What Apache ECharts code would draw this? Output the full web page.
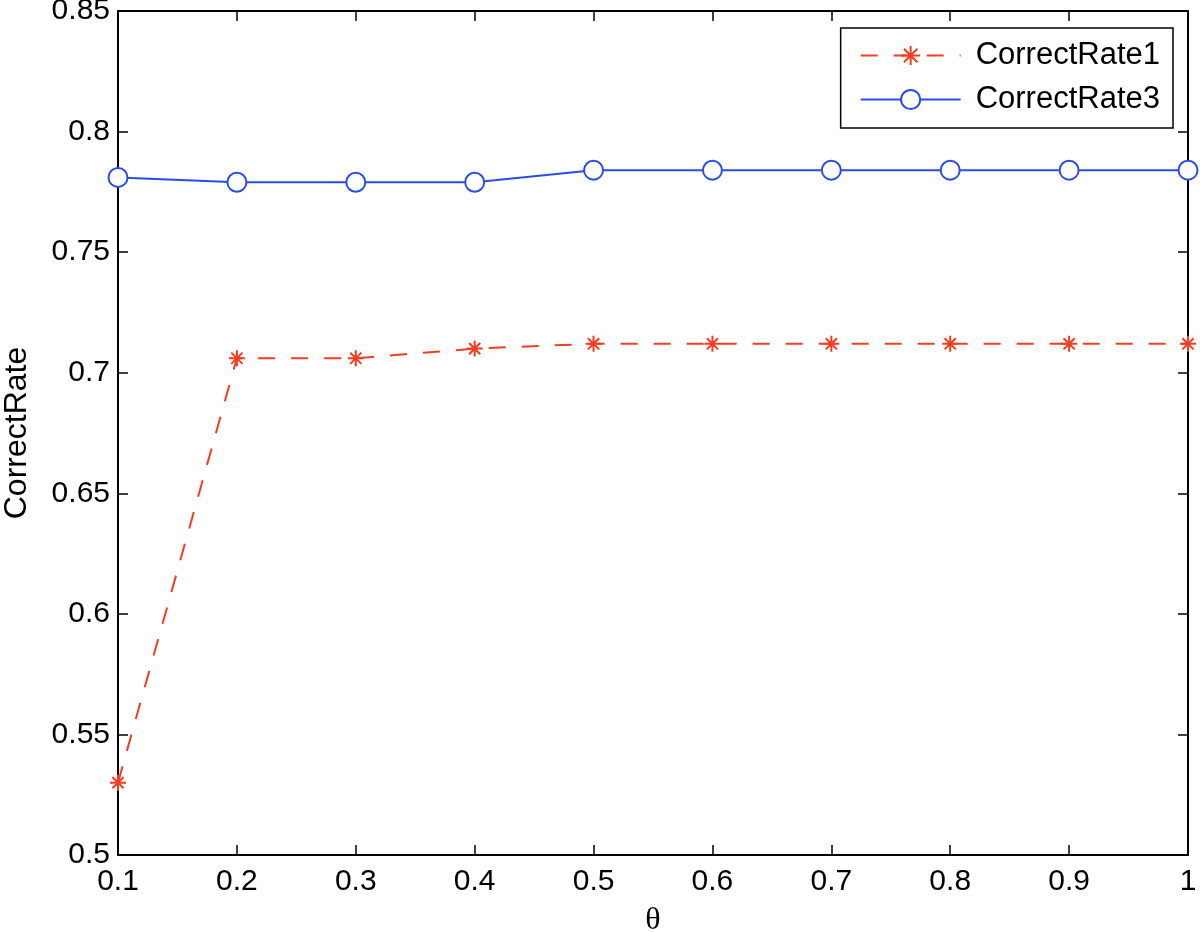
<!DOCTYPE html>
<html>
<head>
<meta charset="utf-8">
<script src="https://cdn.jsdelivr.net/npm/echarts@6/dist/echarts.min.js"></script>
<style>html,body{margin:0;padding:0;background:#fff}#c{width:1200px;height:933px}</style>
</head>
<body>
<div id="c"></div>
<script>
var thetas = [0.1, 0.2, 0.3, 0.4, 0.5, 0.6, 0.7, 0.8, 0.9, 1.0];
var correctRate1 = [0.530, 0.706, 0.706, 0.710, 0.712, 0.712, 0.712, 0.712, 0.712, 0.712];
var correctRate3 = [0.781, 0.779, 0.779, 0.779, 0.784, 0.784, 0.784, 0.784, 0.784, 0.784];
var seriesNames = ['CorrectRate1', 'CorrectRate3'];

var FONT = 'Liberation Sans';
var RED = '#f43c22';
var BLUE = '#2a4ce6';
var star = 'path://M0,-10L0,10M-10,0L10,0M-7,-7L7,7M-7,7L7,-7';

function pairs(xs, ys) { return xs.map(function (x, i) { return [x, ys[i]]; }); }

var axisLineStyle = { show: true, lineStyle: { color: '#000', width: 2 } };
var tickStyle = { show: true, inside: true, length: 10, lineStyle: { color: '#000', width: 1.5 } };

var chart = echarts.init(document.getElementById('c'), null, { renderer: 'canvas' });
chart.setOption({
  animation: false,
  backgroundColor: '#fff',
  textStyle: { fontFamily: FONT },
  grid: { left: 118, right: 12, top: 11, bottom: 78, containLabel: false, outerBoundsMode: 'none' },
  legend: {
    orient: 'vertical',
    right: 27,
    top: 28,
    data: seriesNames,
    itemWidth: 100,
    itemHeight: 24,
    itemGap: 13,
    padding: [12, 13, 13, 19],
    borderColor: '#000',
    borderWidth: 1.5,
    textStyle: { fontFamily: FONT, fontSize: 31, lineHeight: 30, color: '#000', padding: [0, 0, 0, 10] }
  },
  xAxis: [{
    type: 'value', position: 'bottom', min: 0.1, max: 1, interval: 0.1,
    name: 'θ', nameLocation: 'middle', nameGap: 50,
    nameTextStyle: { fontFamily: 'Liberation Serif', fontSize: 32, color: '#000' },
    axisLine: axisLineStyle, axisTick: tickStyle, splitLine: { show: false },
    axisLabel: { fontFamily: FONT, fontSize: 30, color: '#000', margin: 12,
      formatter: function (v) { return String(Math.round(v * 10) / 10); } }
  }, {
    type: 'value', position: 'top', min: 0.1, max: 1, interval: 0.1,
    axisLine: axisLineStyle, axisTick: tickStyle, splitLine: { show: false },
    axisLabel: { show: false }
  }],
  yAxis: [{
    type: 'value', position: 'left', min: 0.5, max: 0.85, interval: 0.05,
    name: 'CorrectRate', nameLocation: 'middle', nameGap: 85,
    nameTextStyle: { fontFamily: FONT, fontSize: 32, color: '#000' },
    axisLine: axisLineStyle, axisTick: tickStyle, splitLine: { show: false },
    axisLabel: { fontFamily: FONT, fontSize: 30, color: '#000', margin: 8,
      formatter: function (v) { return String(Math.round(v * 100) / 100); } }
  }, {
    type: 'value', position: 'right', min: 0.5, max: 0.85, interval: 0.05,
    axisLine: axisLineStyle, axisTick: tickStyle, splitLine: { show: false },
    axisLabel: { show: false }
  }],
  series: [{
    name: seriesNames[0], type: 'line', xAxisIndex: 0, yAxisIndex: 0,
    data: pairs(thetas, correctRate1),
    symbol: star, symbolSize: 16, showSymbol: true,
    lineStyle: { color: RED, width: 2, type: [17, 16] },
    itemStyle: { color: RED, borderColor: RED, borderWidth: 2 },
    emphasis: { disabled: true }
  }, {
    name: seriesNames[1], type: 'line', xAxisIndex: 0, yAxisIndex: 0,
    data: pairs(thetas, correctRate3),
    symbol: 'emptyCircle', symbolSize: 19, showSymbol: true,
    lineStyle: { color: BLUE, width: 2 },
    itemStyle: { color: BLUE, borderColor: BLUE, borderWidth: 2 },
    emphasis: { disabled: true }
  }]
});
</script>
</body>
</html>
